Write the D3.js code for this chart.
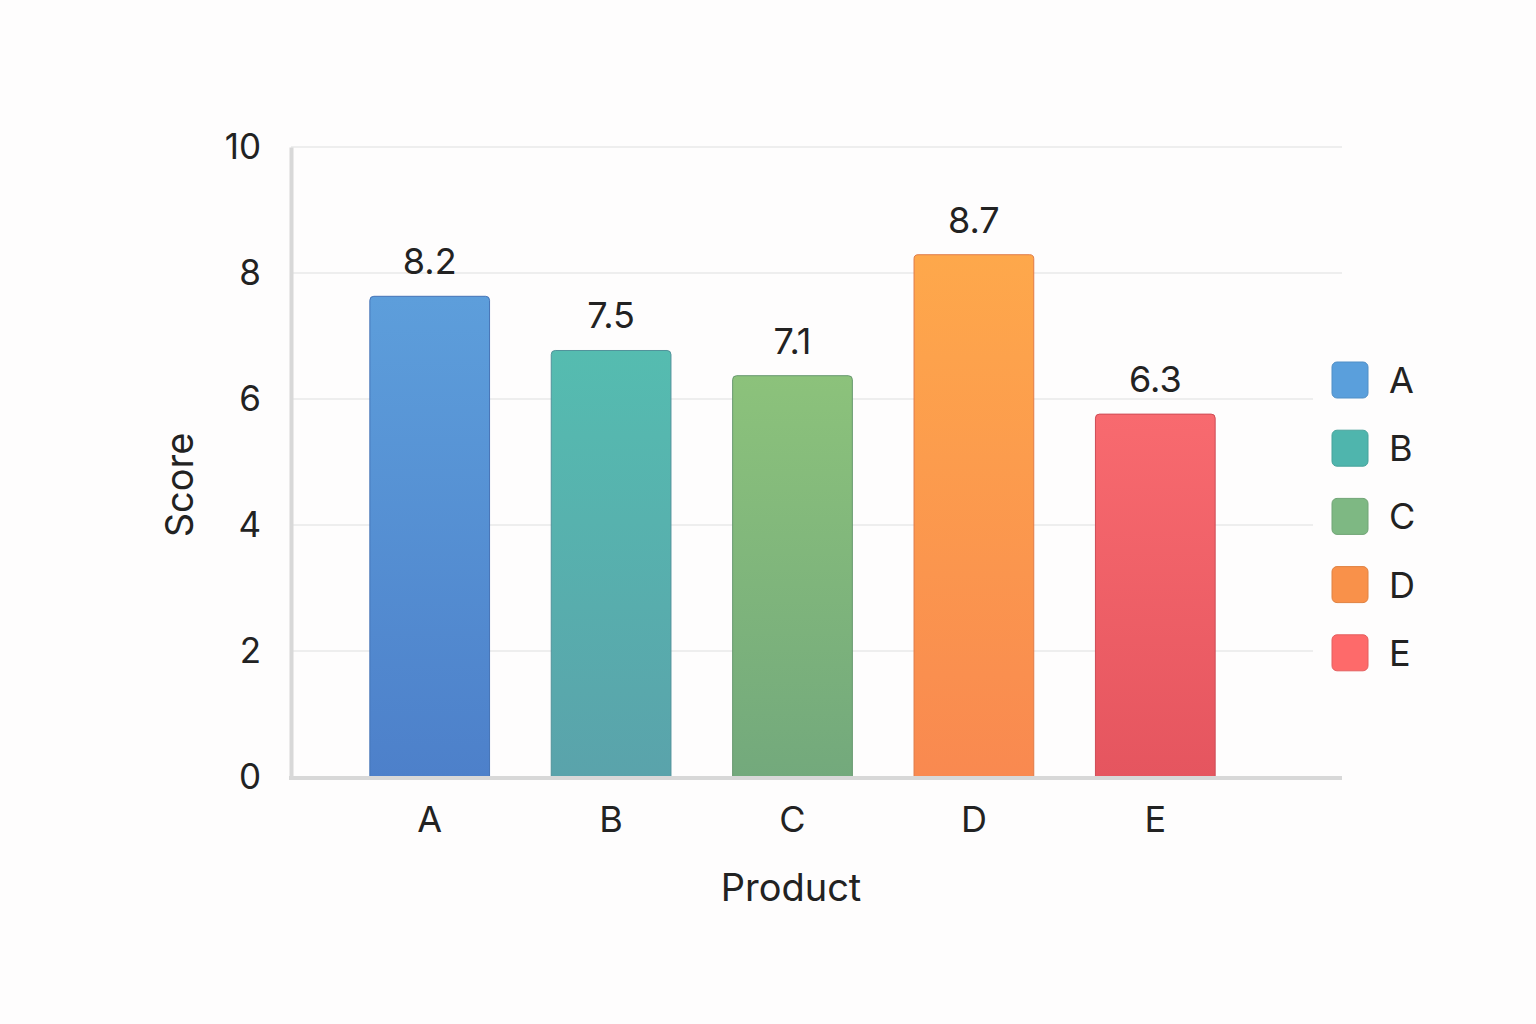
<!DOCTYPE html>
<html lang="en">
  <head>
    <meta charset="utf-8">
    <title>Score by Product</title>
    <script src="https://d3js.org/d3.v7.min.js"></script>
    <style>
      body { margin: 0; background: #fefdfd; font-family: Inter, "Noto Sans", sans-serif; }
      text { fill: #222; }
    </style>
  </head>
  <body>
    <div id="chart"></div>
    <script>
      // data
      var products = ["A", "B", "C", "D", "E"];
      var scoreLabels = ["8.2", "7.5", "7.1", "8.7", "6.3"];   // printed above the bars
      var barHeights = [7.63, 6.77, 6.37, 8.29, 5.76];          // bar tops as drawn in the reference
      var yTicks = [0, 2, 4, 6, 8, 10];
      var colorsTop = ["#5d9edb", "#55bcb0", "#8cc27b", "#fea84b", "#f86a6f"];
      var colorsBottom = ["#4d80ca", "#5aa3ab", "#73a97c", "#f98950", "#e5555f"];
      var legendColors = ["#5a9fdc", "#4fb5ad", "#7eb883", "#f9914a", "#fe6a6a"];

      var w = 1536, h = 1024;
      var plotLeft = 291, plotRight = 1342, plotTop = 147, plotBottom = 777;

      var svg = d3.select("#chart").append("svg")
        .attr("width", w)
        .attr("height", h);

      var defs = svg.append("defs");
      products.forEach(function(p, i) {
        var g = defs.append("linearGradient")
          .attr("id", "grad" + p)
          .attr("x1", 0).attr("y1", 0).attr("x2", 0).attr("y2", 1);
        g.append("stop").attr("offset", "0%").attr("stop-color", colorsTop[i]);
        g.append("stop").attr("offset", "100%").attr("stop-color", colorsBottom[i]);
      });

      var xScale = d3.scaleBand()
        .domain(products)
        .range([339, 1246])
        .paddingInner(0.34)
        .paddingOuter(0.17);

      var yScale = d3.scaleLinear()
        .domain([0, 10])
        .range([plotBottom, plotTop]);

      // gridlines
      svg.append("g")
        .selectAll("line")
        .data(yTicks.slice(1))
        .join("line")
          .attr("x1", plotLeft)
          .attr("x2", plotRight)
          .attr("y1", function(d) { return yScale(d); })
          .attr("y2", function(d) { return yScale(d); })
          .attr("stroke", "#e9e8e8")
          .attr("stroke-width", 1.5);

      // y axis
      var yAxis = d3.axisLeft(yScale).tickValues(yTicks).tickSize(0).tickPadding(30);
      var gy = svg.append("g")
        .attr("transform", `translate(${plotLeft},0)`)
        .call(yAxis);
      gy.select(".domain").attr("stroke", "#d8d8d8").attr("stroke-width", 4);
      gy.selectAll("text")
        .attr("font-size", 35)
        .attr("font-family", "Inter, sans-serif")
        .attr("fill", "#222");

      // bars
      svg.append("g")
        .selectAll("path")
        .data(products)
        .join("path")
          .attr("d", function(d, i) {
            var x = xScale(d), bw = xScale.bandwidth();
            var y = yScale(barHeights[i]), r = 4;
            return `M${x},${plotBottom} L${x},${y + r} Q${x},${y} ${x + r},${y} ` +
                   `L${x + bw - r},${y} Q${x + bw},${y} ${x + bw},${y + r} L${x + bw},${plotBottom} Z`;
          })
          .attr("fill", function(d) { return "url(#grad" + d + ")"; })
          .attr("stroke", function(d, i) { return d3.color(colorsBottom[i]).darker(0.3); })
          .attr("stroke-width", 1);

      // value labels
      svg.append("g")
        .selectAll("text")
        .data(products)
        .join("text")
          .attr("x", function(d) { return xScale(d) + xScale.bandwidth() / 2; })
          .attr("y", function(d, i) { return yScale(barHeights[i]) - 22; })
          .attr("text-anchor", "middle")
          .attr("font-size", 36)
          .text(function(d, i) { return scoreLabels[i]; });

      // x axis
      var xAxis = d3.axisBottom(xScale).tickSize(0).tickPadding(29);
      var gx = svg.append("g")
        .attr("transform", `translate(0,${plotBottom})`)
        .call(xAxis);
      gx.select(".domain").remove();
      gx.selectAll("text")
        .attr("font-size", 36)
        .attr("font-family", "Inter, sans-serif")
        .attr("fill", "#222");
      svg.append("line")
        .attr("x1", plotLeft - 2).attr("x2", plotRight)
        .attr("y1", plotBottom + 1).attr("y2", plotBottom + 1)
        .attr("stroke", "#d8d8d8")
        .attr("stroke-width", 4);

      // axis titles
      svg.append("text")
        .text("Product")
        .attr("x", 791)
        .attr("y", 901)
        .attr("text-anchor", "middle")
        .attr("font-size", 38);

      svg.append("text")
        .text("Score")
        .attr("text-anchor", "middle")
        .attr("font-size", 38)
        .attr("transform", "translate(193,485) rotate(-90)");

      // legend
      svg.append("rect")
        .attr("x", 1313).attr("y", 350)
        .attr("width", 140).attr("height", 335)
        .attr("fill", "#fefdfd");

      var legend = svg.append("g")
        .selectAll("g")
        .data(products)
        .join("g")
          .attr("transform", function(d, i) { return `translate(1332,${362 + i * 68.2})`; });

      legend.append("rect")
        .attr("width", 36)
        .attr("height", 36)
        .attr("rx", 5)
        .attr("fill", function(d, i) { return legendColors[i]; })
        .attr("stroke", function(d, i) { return d3.color(legendColors[i]).darker(0.3); })
        .attr("stroke-width", 1);

      legend.append("text")
        .attr("x", 57)
        .attr("y", 18)
        .attr("dy", "0.36em")
        .attr("font-size", 36)
        .text(function(d) { return d; });
    </script>
  </body>
</html>
